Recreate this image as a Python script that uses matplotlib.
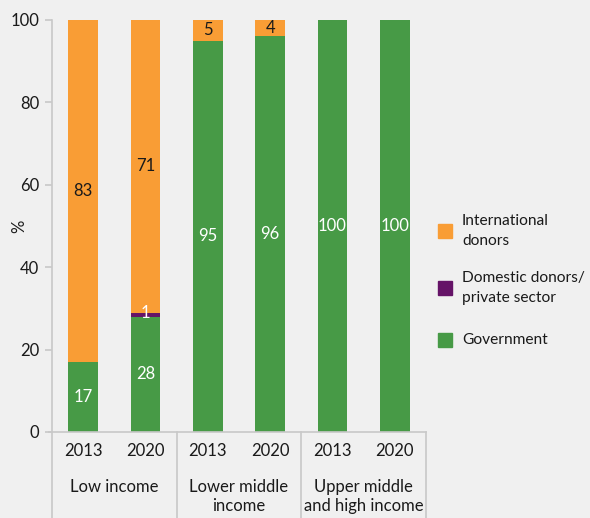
import matplotlib
matplotlib.use("Agg")
import matplotlib.pyplot as plt
import numpy as np

years = ["2013", "2020", "2013", "2020", "2013", "2020"]
groups = ["Low income", "Lower middle\nincome", "Upper middle\nand high income"]
government = [17, 28, 95, 96, 100, 100]
domestic = [0, 1, 0, 0, 0, 0]
international = [83, 71, 5, 4, 0, 0]
series_names = ["International\ndonors", "Domestic donors/\nprivate sector", "Government"]
yticks = [0, 20, 40, 60, 80, 100]

c_int = "#F99D35"
c_dom = "#651367"
c_gov = "#479A46"
bg = "#F0F0F0"
axc = "#C8C8C8"

plt.rcParams['font.family'] = ['Lato', 'DejaVu Sans']

fig = plt.figure(figsize=(5.9, 5.18), dpi=100, facecolor=bg)
ax = fig.add_axes([52/590, 1-432/518, (426-52)/590, (432-20)/518])
ax.set_facecolor(bg)

x = np.arange(len(years))
w = 0.48
gov = np.array(government)
dom = np.array(domestic)
intl = np.array(international)
ax.bar(x, gov, w, color=c_gov, zorder=2)
ax.bar(x, dom, w, bottom=gov, color=c_dom, zorder=2)
ax.bar(x, intl, w, bottom=gov + dom, color=c_int, zorder=2)

fs = 12
for i in range(len(x)):
    if gov[i] > 0:
        ax.text(x[i], gov[i] / 2, f"{gov[i]}", ha="center", va="center", color="white", fontsize=fs, zorder=3)
    if dom[i] > 0:
        ax.text(x[i], gov[i] + dom[i] / 2 + 0.3, f"{dom[i]}", ha="center", va="center", color="white", fontsize=fs, zorder=3)
    if intl[i] > 0:
        ax.text(x[i], gov[i] + dom[i] + intl[i] / 2, f"{intl[i]}", ha="center", va="center", color="#1a1a1a", fontsize=fs, zorder=3)

ax.set_xlim(-0.5, 5.5)
ax.set_ylim(0, 100)
ax.set_yticks(yticks)
ax.set_yticklabels([str(t) for t in yticks], fontsize=fs, color="#1a1a1a")
ax.tick_params(axis="y", length=5, color=axc, width=1.2, pad=4)
ax.set_xticks([])
for s in ["top", "right", "bottom"]:
    ax.spines[s].set_visible(False)
ax.spines["left"].set_color(axc)
ax.spines["left"].set_linewidth(1.2)
ax.set_ylabel("%", fontsize=fs, color="#1a1a1a")
ax.yaxis.set_label_coords(-(52 - 27) / 374.0, 0.5)

# bottom axis line and group separators
trans = ax.get_xaxis_transform()
ax.plot([-0.55, 5.5], [0, 0], color=axc, lw=1.2, transform=trans, clip_on=False, zorder=4)
bottom_frac = -(518 - 432) / 412.0
for gx in [-0.5, 1.5, 3.5, 5.5]:
    ax.plot([gx, gx], [0, bottom_frac], color=axc, lw=1.2, transform=trans, clip_on=False)

for i, y in enumerate(years):
    ax.text(x[i], -(451 - 432) / 412.0, y, ha="center", va="center", fontsize=fs, color="#1a1a1a", transform=trans)
for g, name in enumerate(groups):
    ax.text(2 * g + 0.5, -(479 - 432) / 412.0, name, ha="center", va="top", fontsize=fs,
            color="#1a1a1a", transform=trans, linespacing=1.2)

leg_y = [231, 288, 340]
for h, name, yy in zip([c_int, c_dom, c_gov], series_names, leg_y):
    fig.patches.append(plt.Rectangle((438/590, 1-(yy+7)/518), 14/590, 14/518,
                                     transform=fig.transFigure, color=h, figure=fig))
    fig.text(462/590, 1-yy/518, name, ha="left", va="center", fontsize=11.2, color="#1a1a1a", linespacing=1.6)

fig.savefig("out.png", dpi=100, facecolor=bg)
